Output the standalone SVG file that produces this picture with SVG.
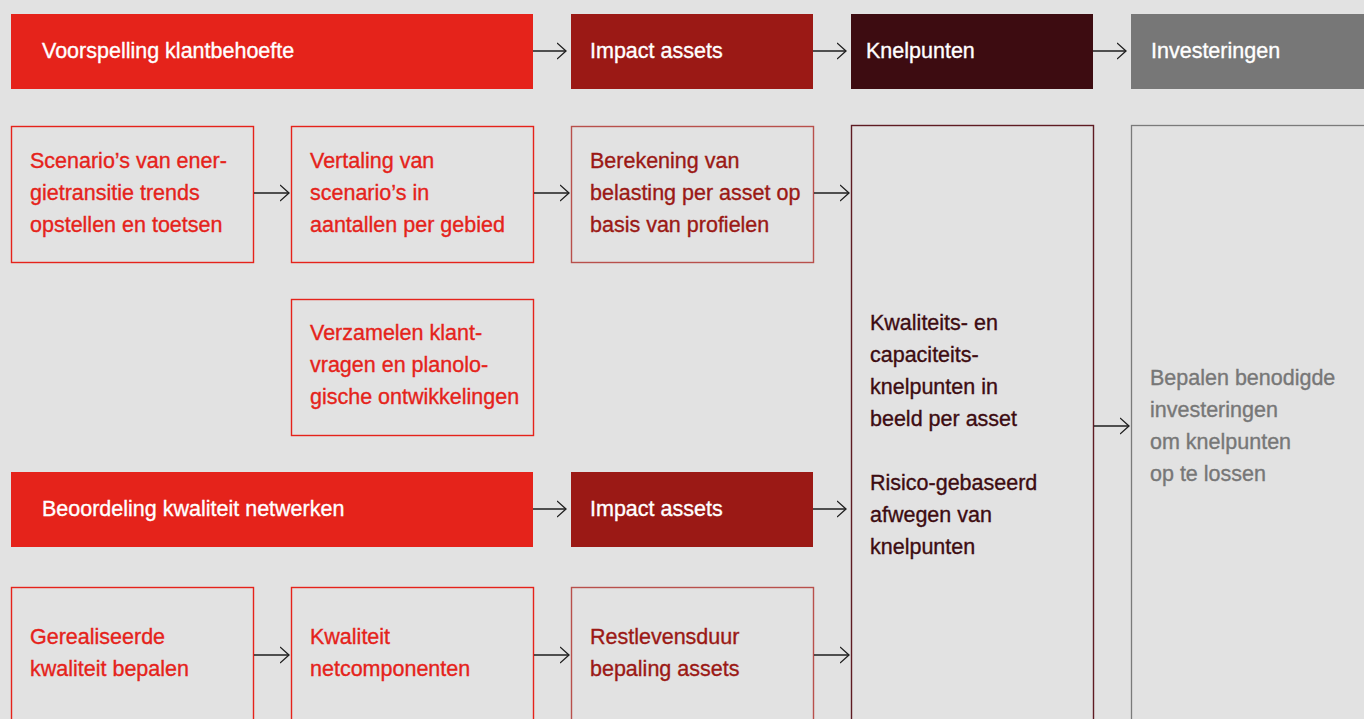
<svg xmlns="http://www.w3.org/2000/svg" width="1364" height="719" viewBox="0 0 1364 719">
<defs>
<style>
text{font-family:"Liberation Sans",Arial,sans-serif;font-size:21.5px;stroke-width:0.35px}
.h{fill:#ffffff;stroke:#ffffff}
.r{fill:#e5231b;stroke:#e5231b}
.i{fill:#9b1915;stroke:#9b1915}
.d{fill:#3d0c11;stroke:#3d0c11}
.g{fill:#777777;stroke:#777777}
.bx{fill:none;stroke:#e5231b;stroke-width:1.4}
.bi{fill:none;stroke:#b8504c;stroke-width:1.4}
.bk{fill:none;stroke:#5e1c23;stroke-width:1.4}
.bg{fill:none;stroke:#7a7a7a;stroke-width:1.3}
.c{fill:none;stroke:#1e1e1e;stroke-width:1.3}
</style>
<marker id="ah" viewBox="0 0 10 18" refX="9.5" refY="9" markerWidth="10" markerHeight="18" markerUnits="userSpaceOnUse" orient="auto">
<path d="M0.5,1 L9.5,9 L0.5,17" fill="none" stroke="#1e1e1e" stroke-width="1.3"/>
</marker>
</defs>
<rect x="0" y="0" width="1364" height="719" fill="#e2e2e2"/>

<g id="h-voorspelling"><rect x="11" y="14" width="522" height="75" fill="#e5231b"/><text class="h" x="42" y="58">Voorspelling klantbehoefte</text></g>
<g id="h-impact1"><rect x="571" y="14" width="242" height="75" fill="#9b1915"/><text class="h" x="590" y="58">Impact assets</text></g>
<g id="h-knelpunten"><rect x="851" y="14" width="242" height="75" fill="#3d0c11"/><text class="h" x="866" y="58">Knelpunten</text></g>
<g id="h-investeringen"><rect x="1131" y="14" width="240" height="75" fill="#777777"/><text class="h" x="1151" y="58">Investeringen</text></g>

<g id="n-scenarios"><rect class="bx" x="11.5" y="126.5" width="242" height="136"/>
<text class="r" x="30" y="168">Scenario’s van ener-</text><text class="r" x="30" y="200">gietransitie trends</text><text class="r" x="30" y="232">opstellen en toetsen</text></g>
<g id="n-vertaling"><rect class="bx" x="291.5" y="126.5" width="242" height="136"/>
<text class="r" x="310" y="168">Vertaling van</text><text class="r" x="310" y="200">scenario’s in</text><text class="r" x="310" y="232">aantallen per gebied</text></g>
<g id="n-berekening"><rect class="bi" x="571.5" y="126.5" width="242" height="136"/>
<text class="i" x="590" y="168">Berekening van</text><text class="i" x="590" y="200">belasting per asset op</text><text class="i" x="590" y="232">basis van profielen</text></g>
<g id="n-verzamelen"><rect class="bx" x="291.5" y="299.5" width="242" height="136"/>
<text class="r" x="310" y="340">Verzamelen klant-</text><text class="r" x="310" y="372">vragen en planolo-</text><text class="r" x="310" y="404">gische ontwikkelingen</text></g>

<g id="n-knelpunten"><rect class="bk" x="851.5" y="125.5" width="242" height="620"/>
<text class="d" x="870" y="330">Kwaliteits- en</text><text class="d" x="870" y="362">capaciteits-</text><text class="d" x="870" y="394">knelpunten in</text><text class="d" x="870" y="426">beeld per asset</text>
<text class="d" x="870" y="490">Risico-gebaseerd</text><text class="d" x="870" y="522">afwegen van</text><text class="d" x="870" y="554">knelpunten</text></g>
<g id="n-investeringen"><rect class="bg" x="1131.5" y="125.5" width="260" height="620"/>
<text class="g" x="1150" y="385">Bepalen benodigde</text><text class="g" x="1150" y="417">investeringen</text><text class="g" x="1150" y="449">om knelpunten</text><text class="g" x="1150" y="481">op te lossen</text></g>

<g id="h-beoordeling"><rect x="11" y="472" width="522" height="75" fill="#e5231b"/><text class="h" x="42" y="516">Beoordeling kwaliteit netwerken</text></g>
<g id="h-impact2"><rect x="571" y="472" width="242" height="75" fill="#9b1915"/><text class="h" x="590" y="516">Impact assets</text></g>

<g id="n-gerealiseerde"><rect class="bx" x="11.5" y="587.5" width="242" height="160"/>
<text class="r" x="30" y="644">Gerealiseerde</text><text class="r" x="30" y="676">kwaliteit bepalen</text></g>
<g id="n-kwaliteit"><rect class="bx" x="291.5" y="587.5" width="242" height="160"/>
<text class="r" x="310" y="644">Kwaliteit</text><text class="r" x="310" y="676">netcomponenten</text></g>
<g id="n-restlevensduur"><rect class="bi" x="571.5" y="587.5" width="242" height="160"/>
<text class="i" x="590" y="644">Restlevensduur</text><text class="i" x="590" y="676">bepaling assets</text></g>

<g id="connectors">
<line class="c" x1="533" y1="51" x2="566" y2="51" marker-end="url(#ah)"/>
<line class="c" x1="813" y1="51" x2="846" y2="51" marker-end="url(#ah)"/>
<line class="c" x1="1093" y1="51" x2="1126" y2="51" marker-end="url(#ah)"/>
<line class="c" x1="254" y1="193" x2="289" y2="193" marker-end="url(#ah)"/>
<line class="c" x1="534" y1="193" x2="569" y2="193" marker-end="url(#ah)"/>
<line class="c" x1="814" y1="193" x2="849" y2="193" marker-end="url(#ah)"/>
<line class="c" x1="533" y1="509" x2="566" y2="509" marker-end="url(#ah)"/>
<line class="c" x1="813" y1="509" x2="846" y2="509" marker-end="url(#ah)"/>
<line class="c" x1="1094" y1="426" x2="1129" y2="426" marker-end="url(#ah)"/>
<line class="c" x1="254" y1="655" x2="289" y2="655" marker-end="url(#ah)"/>
<line class="c" x1="534" y1="655" x2="569" y2="655" marker-end="url(#ah)"/>
<line class="c" x1="814" y1="655" x2="849" y2="655" marker-end="url(#ah)"/>
</g>
</svg>
